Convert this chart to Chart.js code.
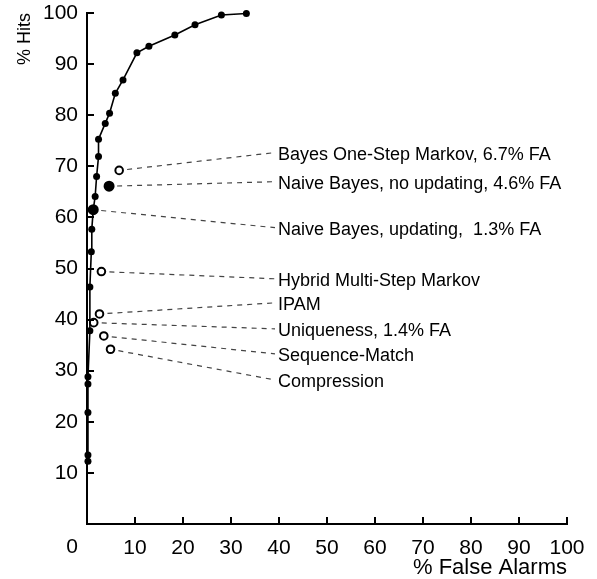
<!DOCTYPE html>
<html>
<head>
<meta charset="utf-8">
<script src="https://cdn.jsdelivr.net/npm/chart.js@4/dist/chart.umd.min.js"></script>
<style>
  html, body { margin: 0; padding: 0; background: #fff; }
  #wrap { width: 597px; height: 579px; }
</style>
</head>
<body>
<div id="wrap"><canvas id="c" width="597" height="579"></canvas></div>
<script>
// ROC curve points (% False Alarms, % Hits)
const curveFA   = [0.2, 0.2, 0.2, 0.2, 0.2, 0.6, 0.6, 0.9, 1.0, 1.3, 1.7, 2.0, 2.4, 2.4, 3.8, 4.7, 5.9, 7.5, 10.4, 12.9, 18.3, 22.5, 28.0, 33.2];
const curveHits = [12.3, 13.5, 21.8, 27.4, 28.8, 37.8, 46.4, 53.3, 57.7, 61.5, 64.1, 68.0, 71.9, 75.3, 78.4, 80.4, 84.3, 86.9, 92.2, 93.5, 95.7, 97.7, 99.6, 99.9];

// Individual methods
const methodNames  = ['Bayes One-Step Markov, 6.7% FA', 'Naive Bayes, no updating, 4.6% FA', 'Naive Bayes, updating,  1.3% FA',
                      'Hybrid Multi-Step Markov', 'IPAM', 'Uniqueness, 1.4% FA', 'Sequence-Match', 'Compression'];
const methodFA     = [6.7, 4.6, 1.3, 3.0, 2.6, 1.4, 3.5, 4.9];
const methodHits   = [69.2, 66.1, 61.5, 49.4, 41.1, 39.4, 36.8, 34.2];
const methodFilled = [false, true, true, false, false, false, false, false];

// Label anchor heights (in % Hits units) for the annotation texts
const labelHits = [72.2, 66.5, 57.5, 47.5, 42.8, 37.7, 32.8, 27.7];
const labelFA = 40;

const xTicks = [0, 10, 20, 30, 40, 50, 60, 70, 80, 90, 100];
const yTicks = [10, 20, 30, 40, 50, 60, 70, 80, 90, 100];

const FONT = "'Liberation Sans', Arial, sans-serif";

const annotationPlugin = {
  id: 'annot',
  beforeDatasetsDraw(chart) {
    const ctx = chart.ctx, xs = chart.scales.x, ys = chart.scales.y;
    ctx.save();
    ctx.strokeStyle = '#444';
    ctx.lineWidth = 1.2;
    ctx.setLineDash([5, 5]);
    for (let i = 0; i < methodNames.length; i++) {
      const x0 = xs.getPixelForValue(methodFA[i]);
      const y0 = ys.getPixelForValue(methodHits[i]);
      const x1 = xs.getPixelForValue(labelFA) - 4;
      const y1 = ys.getPixelForValue(labelHits[i]) - 2.5;
      const dx = x1 - x0, dy = y1 - y0, len = Math.hypot(dx, dy);
      const off = 8;
      ctx.beginPath();
      ctx.moveTo(x0 + dx / len * off, y0 + dy / len * off);
      ctx.lineTo(x1, y1);
      ctx.stroke();
    }
    ctx.restore();
  },
  afterDraw(chart) {
    const ctx = chart.ctx, xs = chart.scales.x, ys = chart.scales.y;
    ctx.save();
    // inward tick marks
    ctx.strokeStyle = '#000';
    ctx.lineWidth = 2;
    ctx.setLineDash([]);
    const bottom = chart.chartArea.bottom, left = chart.chartArea.left;
    xTicks.forEach(v => {
      if (v === 0) return;
      const px = Math.round(xs.getPixelForValue(v));
      ctx.beginPath(); ctx.moveTo(px, bottom); ctx.lineTo(px, bottom - 7); ctx.stroke();
    });
    yTicks.forEach(v => {
      const py = Math.round(ys.getPixelForValue(v));
      ctx.beginPath(); ctx.moveTo(left, py); ctx.lineTo(left + 7, py); ctx.stroke();
    });
    // origin label
    ctx.fillStyle = '#000';
    ctx.font = '21px ' + FONT;
    ctx.textAlign = 'center';
    ctx.textBaseline = 'middle';
    ctx.fillText('0', xs.getPixelForValue(0) - 15, 547.5);
    // annotation texts
    ctx.font = '18px ' + FONT;
    ctx.textAlign = 'left';
    ctx.textBaseline = 'middle';
    for (let i = 0; i < methodNames.length; i++) {
      ctx.fillText(methodNames[i], xs.getPixelForValue(labelFA) - 1, ys.getPixelForValue(labelHits[i]));
    }
    ctx.restore();
  }
};

new Chart(document.getElementById('c'), {
  type: 'scatter',
  data: {
    datasets: [
      {
        data: curveFA.map((x, i) => ({ x, y: curveHits[i] })),
        showLine: true,
        borderColor: '#000',
        borderWidth: 1.6,
        backgroundColor: '#000',
        pointRadius: 3.5,
        pointBorderWidth: 0,
        pointBackgroundColor: '#000',
        tension: 0,
        clip: false
      },
      {
        data: methodFA.map((x, i) => ({ x, y: methodHits[i] })),
        showLine: false,
        pointRadius: methodFilled.map(f => f ? 4.5 : 3.8),
        pointBorderWidth: 2,
        pointBorderColor: '#000',
        pointBackgroundColor: methodFilled.map(f => f ? '#000' : '#fff'),
        clip: false
      }
    ]
  },
  options: {
    responsive: false,
    animation: false,
    devicePixelRatio: 1,
    layout: { padding: { top: 13, right: 30, left: 0, bottom: 0 } },
    plugins: { legend: { display: false }, tooltip: { enabled: false } },
    scales: {
      x: {
        type: 'linear',
        min: 0, max: 100,
        afterFit(s) { s.height = 55; s.paddingLeft = 0; s.paddingRight = 0; },
        afterBuildTicks(s) { s.ticks = xTicks.map(v => ({ value: v })); },
        ticks: {
          color: '#000',
          font: { family: FONT, size: 21 },
          padding: 12,
          maxRotation: 0,
          callback: v => (v === 0 ? '' : String(v))
        },
        grid: { display: false, drawTicks: false },
        border: { display: true, color: '#000', width: 2 },
        title: {
          display: true, text: '% False Alarms', align: 'end',
          color: '#000', font: { family: FONT, size: 22, lineHeight: 1 },
          padding: { top: 0, bottom: 0 }
        }
      },
      y: {
        type: 'linear',
        min: 0, max: 100,
        afterFit(s) { s.width = 87; s.paddingTop = 0; s.paddingBottom = 0; },
        afterBuildTicks(s) { s.ticks = yTicks.map(v => ({ value: v })); },
        ticks: {
          color: '#000',
          font: { family: FONT, size: 21 },
          padding: 9,
          callback: v => String(v)
        },
        grid: { display: false, drawTicks: false },
        border: { display: true, color: '#000', width: 2 },
        title: {
          display: true, text: '% Hits', align: 'end',
          color: '#000', font: { family: FONT, size: 18 },
          padding: { top: 14, bottom: 0 }
        }
      }
    }
  },
  plugins: [annotationPlugin]
});
</script>
</body>
</html>
